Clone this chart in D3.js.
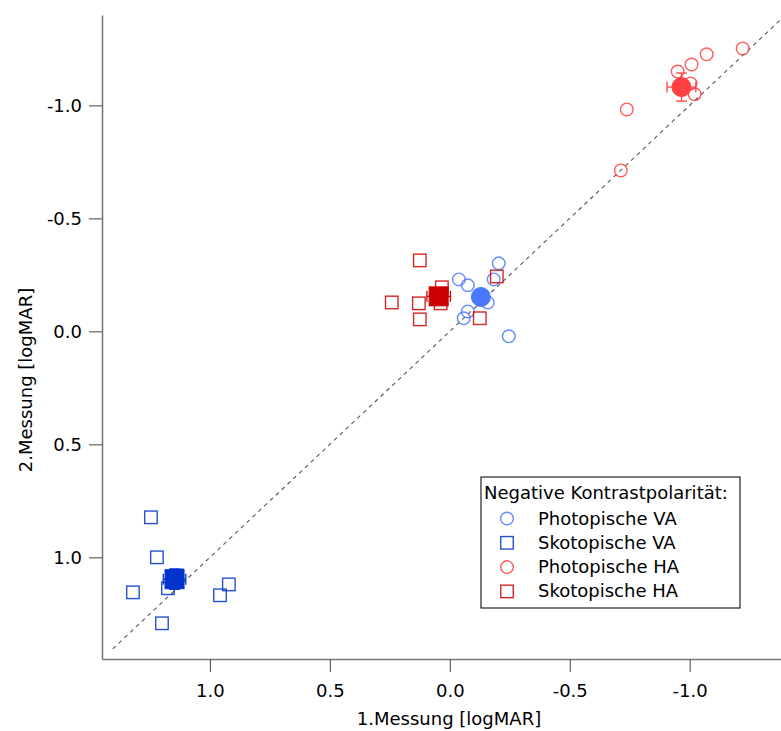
<!DOCTYPE html>
<html>
<head>
<meta charset="utf-8">
<script src="https://cdn.jsdelivr.net/npm/d3@7"></script>
<style>
  html, body { margin: 0; padding: 0; background: #fff; }
  svg { display: block; font-family: "DejaVu Sans", sans-serif; }
</style>
</head>
<body>
<svg id="chart" width="781" height="731"></svg>
<script>
// ---- Data (logMAR values: [1.Messung, 2.Messung]) ----
const seriesNames = ["Photopische VA", "Skotopische VA", "Photopische HA", "Skotopische HA"];
const seriesColors = ["#4a78ff", "#0033cc", "#ff4040", "#cc0000"];
const seriesShapes = ["circle", "square", "circle", "square"];

const photopischeVA_x = [-0.204, -0.038, -0.075, -0.183, -0.158, -0.075, -0.058, -0.246];
const photopischeVA_y = [-0.301, -0.230, -0.204, -0.230, -0.128, -0.088, -0.058, 0.022];

const skotopischeVA_x = [1.246, 1.221, 1.321, 1.200, 1.175, 0.958, 0.921, 1.138];
const skotopischeVA_y = [0.823, 1.000, 1.155, 1.292, 1.137, 1.168, 1.120, 1.080];

const photopischeHA_x = [-1.221, -1.071, -1.008, -0.950, -1.004, -1.021, -0.738, -0.713];
const photopischeHA_y = [-1.252, -1.226, -1.181, -1.150, -1.097, -1.049, -0.982, -0.712];

const skotopischeHA_x = [0.125, 0.033, 0.242, 0.129, 0.038, 0.125, -0.125, -0.196];
const skotopischeHA_y = [-0.314, -0.195, -0.128, -0.124, -0.124, -0.053, -0.058, -0.243];

// error bars of the mean markers (x, y)
const meanErrX = [0.03, 0.047, 0.06, 0.049];
const meanErrY = [0.03, 0.045, 0.062, 0.035];

const xTicks = [1.0, 0.5, 0.0, -0.5, -1.0];
const yTicks = [-1.0, -0.5, 0.0, 0.5, 1.0];
const xDomain = [1.45, -1.385];
const yDomain = [-1.4, 1.45];
const identityLine = [1.405, -1.385];

const legendTitle = "Negative Kontrastpolarität:";
const xTitle = "1.Messung [logMAR]";
const yTitle = "2.Messung [logMAR]";

// ---- Build ----
const xs = [photopischeVA_x, skotopischeVA_x, photopischeHA_x, skotopischeHA_x];
const ys = [photopischeVA_y, skotopischeVA_y, photopischeHA_y, skotopischeHA_y];
const series = seriesNames.map((name, i) => ({
  name, color: seriesColors[i], shape: seriesShapes[i],
  points: xs[i].map((v, j) => ({x: v, y: ys[i][j]})),
  mean: {x: d3.mean(xs[i]), y: d3.mean(ys[i])},
  ex: meanErrX[i], ey: meanErrY[i]
}));

const svg = d3.select("#chart");
const plotL = 102, plotR = 782, plotT = 15, plotB = 659;
const x = d3.scaleLinear().domain(xDomain).range([plotL, plotR]);
const y = d3.scaleLinear().domain(yDomain).range([plotT, plotB]);

const fmt = d => d.toFixed(1);

// identity line
svg.append("line")
  .attr("x1", x(identityLine[0])).attr("y1", y(identityLine[0]))
  .attr("x2", x(identityLine[1])).attr("y2", y(identityLine[1]))
  .attr("stroke", "#555").attr("stroke-width", 1.1)
  .attr("stroke-dasharray", "4,4");

// axes
const gx = svg.append("g").attr("transform", `translate(0,${plotB})`)
  .call(d3.axisBottom(x).tickValues(xTicks).tickFormat(fmt).tickSize(13).tickSizeOuter(0).tickPadding(12));
const gy = svg.append("g").attr("transform", `translate(${plotL},0)`)
  .call(d3.axisLeft(y).tickValues(yTicks).tickFormat(fmt).tickSize(13).tickSizeOuter(0).tickPadding(7));
[gx, gy].forEach(g => {
  g.select(".domain").attr("stroke", "#7a7a7a").attr("stroke-width", 1.6);
  g.selectAll(".tick line").attr("stroke", "#555").attr("stroke-width", 1.1);
  g.selectAll(".tick text").attr("fill", "#000").style("font-size", "18px")
    .style("font-family", "'DejaVu Sans', sans-serif");
});

svg.append("text").attr("x", 449).attr("y", 725).attr("text-anchor", "middle")
  .style("font-size", "18px").text(xTitle);
svg.append("text").attr("transform", "translate(32,380) rotate(-90)").attr("text-anchor", "middle")
  .style("font-size", "18px").text(yTitle);

function drawMarker(g, shape, cx, cy, size, color, filled) {
  if (shape === "circle") {
    g.append("circle").attr("cx", cx).attr("cy", cy).attr("r", size / 2)
      .attr("fill", filled ? color : "none").attr("stroke", color)
      .attr("stroke-width", filled ? 1 : 1.4).attr("stroke-opacity", filled ? 1 : 0.85);
  } else {
    g.append("rect").attr("x", cx - size / 2).attr("y", cy - size / 2)
      .attr("width", size).attr("height", size)
      .attr("fill", filled ? color : "none").attr("stroke", color)
      .attr("stroke-width", filled ? 1 : 1.4).attr("stroke-opacity", filled ? 1 : 0.85);
  }
}

const marks = svg.append("g");
series.forEach(s => {
  const g = marks.append("g");
  s.points.forEach(p => drawMarker(g, s.shape, x(p.x), y(p.y), s.shape === "circle" ? 12.6 : 12.5, s.color, false));
});
series.forEach(s => {
  const g = marks.append("g");
  const mx = x(s.mean.x), my = y(s.mean.y);
  const x1 = x(s.mean.x + s.ex), x2 = x(s.mean.x - s.ex);
  const y1 = y(s.mean.y - s.ey), y2 = y(s.mean.y + s.ey);
  const cap = 5.5;
  const eb = g.append("g").attr("stroke", s.color).attr("stroke-width", 1.3);
  eb.append("line").attr("x1", x1).attr("x2", x2).attr("y1", my).attr("y2", my);
  eb.append("line").attr("x1", x1).attr("x2", x1).attr("y1", my - cap).attr("y2", my + cap);
  eb.append("line").attr("x1", x2).attr("x2", x2).attr("y1", my - cap).attr("y2", my + cap);
  eb.append("line").attr("x1", mx).attr("x2", mx).attr("y1", y1).attr("y2", y2);
  eb.append("line").attr("x1", mx - cap).attr("x2", mx + cap).attr("y1", y1).attr("y2", y1);
  eb.append("line").attr("x1", mx - cap).attr("x2", mx + cap).attr("y1", y2).attr("y2", y2);
  drawMarker(g, s.shape, mx, my, 19, s.color, true);
});

// legend
const lg = svg.append("g");
lg.append("rect").attr("x", 481).attr("y", 477).attr("width", 259).attr("height", 131)
  .attr("fill", "#fff").attr("stroke", "#222").attr("stroke-width", 1.2);
lg.append("text").attr("x", 484).attr("y", 499).style("font-size", "18px").text(legendTitle);
series.forEach((s, i) => {
  const ry = 518.5 + i * 24.3;
  drawMarker(lg, s.shape, 507, ry, s.shape === "circle" ? 12.6 : 12.5, s.color, false);
  lg.append("text").attr("x", 538).attr("y", ry + 6).style("font-size", "18px").text(s.name);
});
</script>
</body>
</html>
